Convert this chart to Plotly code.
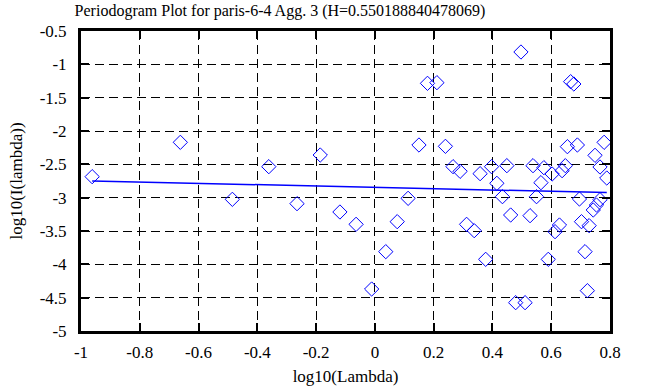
import plotly.graph_objects as go
import numpy as np

# Periodogram points (log10(lambda), log10(I(lambda)))
log_lambda = [
    -0.962, -0.662, -0.485, -0.361, -0.265, -0.186, -0.119, -0.064,
    -0.011, 0.037, 0.076, 0.113, 0.150, 0.179, 0.211, 0.240, 0.266,
    0.290, 0.312, 0.338, 0.358, 0.377, 0.397, 0.415, 0.434, 0.449,
    0.462, 0.479, 0.497, 0.511, 0.528, 0.538, 0.550, 0.565, 0.575,
    0.590, 0.603, 0.613, 0.628, 0.637, 0.648, 0.655, 0.666, 0.677,
    0.689, 0.696, 0.703, 0.715, 0.723, 0.729, 0.743, 0.749, 0.754,
    0.766, 0.766, 0.780, 0.789,
]
log_I = [
    -2.685, -2.17, -3.025, -2.535, -3.09, -2.36, -3.215, -3.40,
    -4.37, -3.81, -3.36, -3.01, -2.21, -1.285, -1.275, -2.23, -2.535,
    -2.605, -3.40, -3.495, -2.64, -3.925, -2.535, -2.785, -2.985, -2.52,
    -3.26, -4.575, -0.815, -4.575, -3.27, -2.52, -2.985, -2.775, -2.55,
    -3.925, -2.645, -3.51, -3.41, -2.595, -2.52, -2.235, -1.26, -1.295,
    -2.21, -3.02, -3.36, -3.81, -4.395, -3.42, -3.185, -2.365, -3.11,
    -2.54, -3.03, -2.17, -2.705,
]

# Fitted line: slope = 1 - 2H
H = 0.550188840478069
fit_slope = 1 - 2 * H
fit_intercept = -2.845

x_ticks = [-1, -0.8, -0.6, -0.4, -0.2, 0, 0.2, 0.4, 0.6, 0.8]
x_ticktext = ["-1", "-0.8", "-0.6", "-0.4", "-0.2", "0", "0.2", "0.4", "0.6", "0.8"]
y_ticks = [-0.5, -1, -1.5, -2, -2.5, -3, -3.5, -4, -4.5, -5]
y_ticktext = ["-0.5", "-1", "-1.5", "-2", "-2.5", "-3", "-3.5", "-4", "-4.5", "-5"]

font_family = "Liberation Serif"

fit_x = np.array([min(log_lambda), max(log_lambda)])
fit_y = fit_intercept + fit_slope * fit_x

fig = go.Figure()
fig.add_trace(go.Scatter(
    x=log_lambda, y=log_I, mode="markers",
    marker=dict(symbol="diamond-open", size=11, color="#0000ff",
                line=dict(width=1, color="#0000ff")),
    showlegend=False,
))
fig.add_trace(go.Scatter(
    x=fit_x, y=fit_y, mode="lines",
    line=dict(color="#0000ff", width=1.5),
    showlegend=False,
))

axis_common = dict(
    showline=True, linecolor="black", linewidth=3, mirror="ticks",
    ticks="inside", ticklen=8, tickwidth=2, tickcolor="black",
    showgrid=True, gridcolor="black", gridwidth=1, griddash="9px,5px",
    zeroline=False, automargin=False,
    tickfont=dict(family=font_family, size=17, color="black"),
)

W, Hpx = 647, 387
fig.update_layout(
    width=W, height=Hpx,
    margin=dict(l=81, r=37, t=31, b=56),
    paper_bgcolor="white", plot_bgcolor="white",
    font=dict(family=font_family, size=17, color="black"),
    title=dict(
        text="Periodogram Plot for paris-6-4 Agg. 3 (H=0.550188840478069)",
        x=280 / W, xanchor="center", xref="container",
        y=1 - 10 / Hpx, yanchor="middle", yref="container",
        font=dict(family=font_family, size=16, color="black"),
    ),
    xaxis=dict(
        range=[-1, 0.8], tickvals=x_ticks, ticktext=x_ticktext,
        title=dict(text="log10(Lambda)", standoff=9,
                   font=dict(family=font_family, size=17)),
        ticklabelstandoff=4,
        **axis_common,
    ),
    yaxis=dict(
        range=[-5, -0.5], tickvals=y_ticks, ticktext=y_ticktext,
        title=dict(text="log10(I(lambda))", standoff=13,
                   font=dict(family=font_family, size=17)),
        ticklabelstandoff=8,
        **axis_common,
    ),
)

# Remove the browser's default 8px body margin so the figure fills the window.
fig.write_html("out.html", config={"displayModeBar": False},
               post_script="document.body.style.margin='0';")
